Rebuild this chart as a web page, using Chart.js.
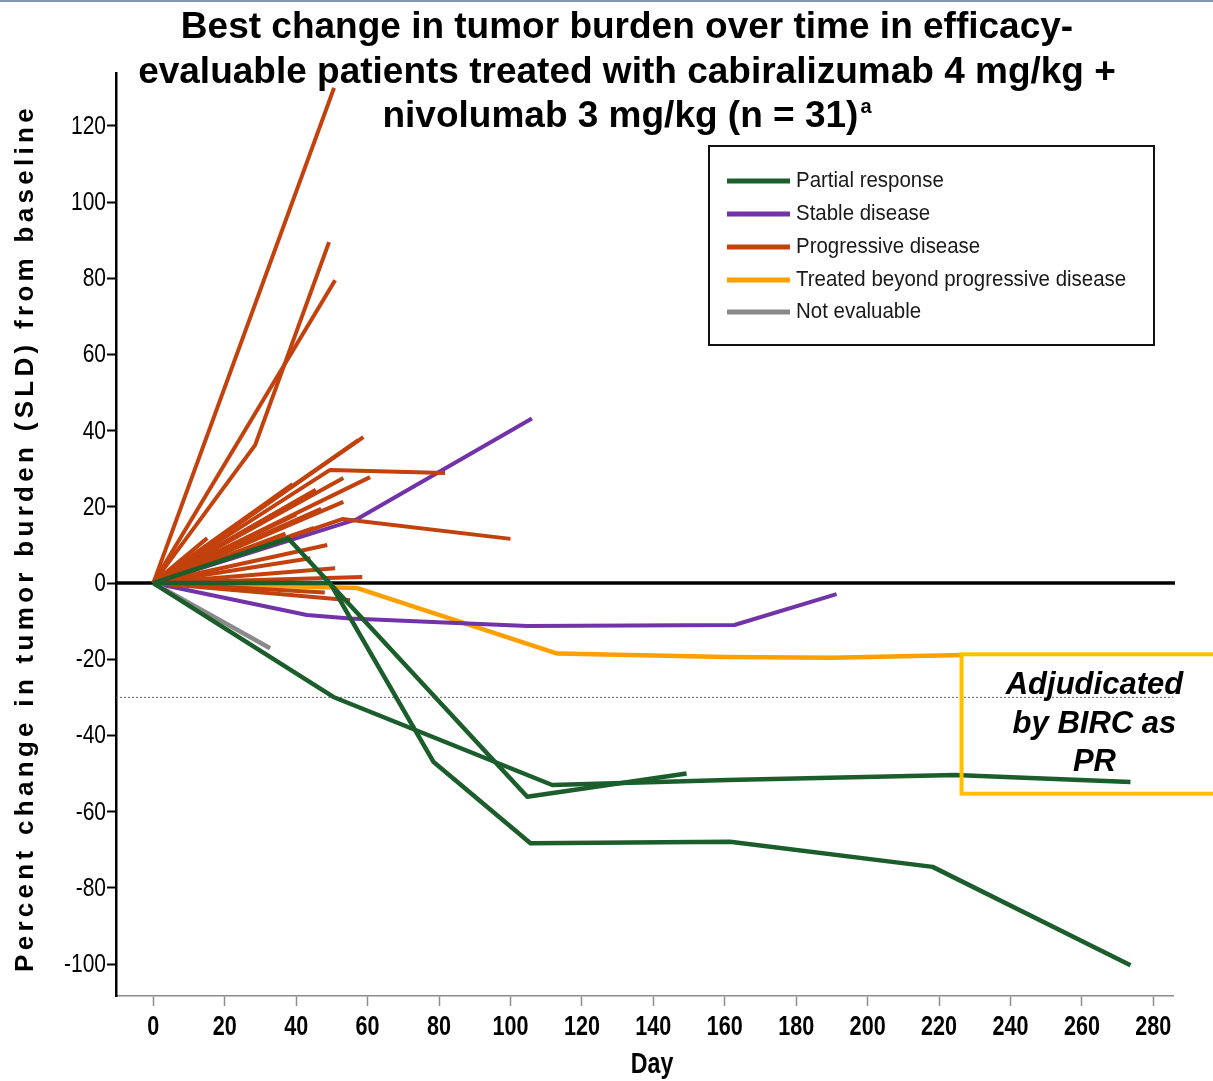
<!DOCTYPE html>
<html>
<head>
<meta charset="utf-8">
<script src="https://cdn.jsdelivr.net/npm/chart.js@4.4.1/dist/chart.umd.min.js"></script>
<style>
  html, body { margin: 0; padding: 0; background: #fff; }
  canvas { display: block; }
</style>
</head>
<body>
<canvas id="chart" width="1213" height="1081"></canvas>
<script>
// Per-patient tracks: [day, % change in SLD from baseline]
const partialResponse = [
  [[0, 0], [49.5, 0], [78.4, -46.9], [105.6, -68.3], [161.5, -67.9], [218.2, -74.5], [273.6, -100.3]],
  [[0, 0], [37.8, 11.7], [104.7, -56.1], [149.3, -50.0]],
  [[0, 0], [50.4, -29.9], [111.7, -53.0], [160.8, -51.7], [224.5, -50.4], [273.6, -52.2]]
];
const stableDisease = [
  [[0, 0], [57.1, 16.8], [106.0, 43.2]],
  [[0, 0], [43.0, -8.4], [55.1, -9.3], [104.7, -11.3], [162.7, -11.0], [191.3, -2.9]]
];
const progressiveDisease = [
  [[0, 0], [50.6, 130.0]],
  [[0, 0], [28.5, 36.2], [49.2, 89.5]],
  [[0, 0], [50.9, 79.5]],
  [[0, 0], [58.8, 38.3]],
  [[0, 0], [57.4, 37.5]],
  [[0, 0], [49.5, 29.7], [81.7, 28.9]],
  [[0, 0], [60.7, 27.8]],
  [[0, 0], [53.2, 27.6]],
  [[0, 0], [45.5, 24.5]],
  [[0, 0], [39.0, 26.0]],
  [[0, 0], [42.0, 22.5]],
  [[0, 0], [53.2, 21.3]],
  [[0, 0], [47.0, 19.5]],
  [[0, 0], [40.0, 18.0]],
  [[0, 0], [52.9, 16.8], [100.0, 11.6]],
  [[0, 0], [45.0, 14.5]],
  [[0, 0], [37.0, 13.0]],
  [[0, 0], [15.1, 11.8]],
  [[0, 0], [48.7, 10.0]],
  [[0, 0], [44.0, 6.5]],
  [[0, 0], [50.9, 3.9]],
  [[0, 0], [58.5, 1.6]],
  [[0, 0], [48.0, -2.5]],
  [[0, 0], [55.1, -4.5]]
];
const treatedBeyondPD = [
  [[0, 0], [57.1, -1.3], [113.1, -18.5], [160.4, -19.4], [190.0, -19.6], [226.6, -18.9]]
];
const notEvaluable = [
  [[0, 0], [32.7, -17.1]]
];

const dayTicks = [0, 20, 40, 60, 80, 100, 120, 140, 160, 180, 200, 220, 240, 260, 280];
const pctTicks = [-100, -80, -60, -40, -20, 0, 20, 40, 60, 80, 100, 120];
const responseThreshold = -30;

const titleLines = [
  'Best change in tumor burden over time in efficacy-',
  'evaluable patients treated with cabiralizumab 4 mg/kg +',
  'nivolumab 3 mg/kg (n = 31)'
];
const titleSup = 'a';
const yTitle = 'Percent change in tumor burden (SLD) from baseline';
const xTitle = 'Day';
const boxLines = ['Adjudicated', 'by BIRC as', 'PR'];

// Response categories, listed top-most first for drawing
const groups = [
  { label: 'Partial response', color: '#1b5e2b', width: 4.5, tracks: partialResponse },
  { label: 'Not evaluable', color: '#8a8a8a', width: 4.5, tracks: notEvaluable },
  { label: 'Progressive disease', color: '#c2410c', width: 4, tracks: progressiveDisease },
  { label: 'Stable disease', color: '#7232a8', width: 4, tracks: stableDisease },
  { label: 'Treated beyond progressive disease', color: '#ffa000', width: 4.5, tracks: treatedBeyondPD }
];
const legendOrder = ['Partial response', 'Stable disease', 'Progressive disease',
  'Treated beyond progressive disease', 'Not evaluable'];

const datasets = [];
groups.forEach(g => g.tracks.forEach(t => datasets.push({
  label: g.label,
  data: t.map(([d, v]) => ({ x: d, y: v })),
  borderColor: g.color,
  borderWidth: g.width,
  pointRadius: 0,
  fill: false,
  tension: 0,
  borderJoinStyle: 'round',
  borderCapStyle: 'butt'
})));

const SANS = '"Liberation Sans", Arial, sans-serif';

// text squeezed horizontally, for the condensed axis lettering
function narrowText(ctx, text, x, y, align, sx) {
  ctx.save();
  ctx.translate(x, y);
  ctx.scale(sx, 1);
  ctx.textAlign = align;
  ctx.fillText(text, 0, 0);
  ctx.restore();
}

const decor = {
  id: 'decor',
  beforeDatasetsDraw(chart) {
    const { ctx, chartArea: a, scales: { y } } = chart;
    ctx.save();
    const yT = y.getPixelForValue(responseThreshold);
    ctx.strokeStyle = '#666';
    ctx.lineWidth = 1;
    ctx.setLineDash([2, 2]);
    ctx.beginPath(); ctx.moveTo(a.left, yT); ctx.lineTo(a.right, yT); ctx.stroke();
    ctx.setLineDash([]);
    const y0 = y.getPixelForValue(0);
    ctx.strokeStyle = '#000';
    ctx.lineWidth = 3.5;
    ctx.beginPath(); ctx.moveTo(a.left, y0); ctx.lineTo(a.right + 2, y0); ctx.stroke();
    ctx.restore();
  },
  afterDraw(chart) {
    const { ctx, scales: { x, y }, width } = chart;
    ctx.save();

    // slide rule along the top
    ctx.fillStyle = '#8096b0';
    ctx.fillRect(0, 0, width, 2);

    // title
    ctx.fillStyle = '#000';
    ctx.textAlign = 'center';
    ctx.textBaseline = 'alphabetic';
    ctx.font = 'bold 37px ' + SANS;
    const cx = 627;
    ctx.fillText(titleLines[0], cx, 38);
    ctx.fillText(titleLines[1], cx, 83);
    const w3 = ctx.measureText(titleLines[2]).width;
    ctx.font = 'bold 20px ' + SANS;
    const ws = ctx.measureText(titleSup).width;
    const start = cx - (w3 + ws + 2) / 2;
    ctx.textAlign = 'left';
    ctx.font = 'bold 37px ' + SANS;
    ctx.fillText(titleLines[2], start, 127);
    ctx.font = 'bold 20px ' + SANS;
    ctx.fillText(titleSup, start + w3 + 2, 113);

    // tick labels
    ctx.fillStyle = '#000';
    ctx.textBaseline = 'middle';
    ctx.font = '25px ' + SANS;
    y.ticks.forEach(t => narrowText(ctx, String(t.value), 106, y.getPixelForValue(t.value) + 1, 'right', 0.84));
    ctx.textBaseline = 'alphabetic';
    ctx.font = 'bold 27px ' + SANS;
    x.ticks.forEach(t => narrowText(ctx, String(t.value), x.getPixelForValue(t.value), 1035, 'center', 0.8));

    // x-axis title
    ctx.font = 'bold 29px ' + SANS;
    narrowText(ctx, xTitle, 652, 1073, 'center', 0.8);

    // y-axis title
    ctx.save();
    ctx.translate(33, 538);
    ctx.rotate(-Math.PI / 2);
    ctx.font = 'bold 26px ' + SANS;
    ctx.letterSpacing = '4.3px';
    ctx.textAlign = 'center';
    ctx.fillText(yTitle, 0, 0);
    ctx.restore();

    // legend
    ctx.strokeStyle = '#111';
    ctx.lineWidth = 2;
    ctx.strokeRect(709, 146, 445, 199);
    const rows = [181, 214, 247, 280, 312];
    legendOrder.forEach((lab, i) => {
      const g = groups.find(gr => gr.label === lab);
      ctx.strokeStyle = g.color;
      ctx.lineWidth = 5;
      ctx.beginPath(); ctx.moveTo(727, rows[i]); ctx.lineTo(790, rows[i]); ctx.stroke();
      ctx.fillStyle = '#1a1a1a';
      ctx.font = '22px ' + SANS;
      ctx.textBaseline = 'middle';
      narrowText(ctx, lab, 796, rows[i], 'left', 0.93);
    });

    // BIRC adjudication box
    const bx = x.getPixelForValue(226.3);
    const by1 = y.getPixelForValue(-18.7);
    const by2 = y.getPixelForValue(-55.3);
    ctx.strokeStyle = '#ffc000';
    ctx.lineWidth = 4;
    ctx.strokeRect(bx, by1, width + 20 - bx, by2 - by1);
    ctx.fillStyle = '#000';
    ctx.font = 'italic bold 31px ' + SANS;
    ctx.textAlign = 'center';
    ctx.textBaseline = 'alphabetic';
    const tx = x.getPixelForValue(263.5);
    ctx.fillText(boxLines[0], tx, y.getPixelForValue(-29.1));
    ctx.fillText(boxLines[1], tx, y.getPixelForValue(-39.4));
    ctx.fillText(boxLines[2], tx, y.getPixelForValue(-49.4));

    ctx.restore();
  }
};

new Chart(document.getElementById('chart'), {
  type: 'line',
  data: { datasets },
  options: {
    responsive: false,
    animation: false,
    events: [],
    layout: { padding: { top: 73, right: 40, left: 0, bottom: 0 } },
    plugins: { legend: { display: false }, tooltip: { enabled: false }, title: { display: false } },
    scales: {
      x: {
        type: 'linear',
        min: -10.45,
        max: 285.5,
        afterBuildTicks: s => { s.ticks = dayTicks.map(v => ({ value: v })); },
        afterFit: s => { s.height = 85; },
        border: { color: '#8c8c8c', width: 1.5 },
        grid: { drawOnChartArea: false, drawTicks: true, tickLength: 10, tickColor: '#8c8c8c', tickWidth: 1.5 },
        ticks: { display: false, autoSkip: false }
      },
      y: {
        type: 'linear',
        min: -108.4,
        max: 133.9,
        afterBuildTicks: s => { s.ticks = pctTicks.map(v => ({ value: v })); },
        afterFit: s => { s.width = 116; },
        border: { color: '#000', width: 2.5 },
        grid: { drawOnChartArea: false, drawTicks: true, tickLength: 9, tickColor: '#000', tickWidth: 2 },
        ticks: { display: false, autoSkip: false }
      }
    }
  },
  plugins: [decor]
});
</script>
</body>
</html>
